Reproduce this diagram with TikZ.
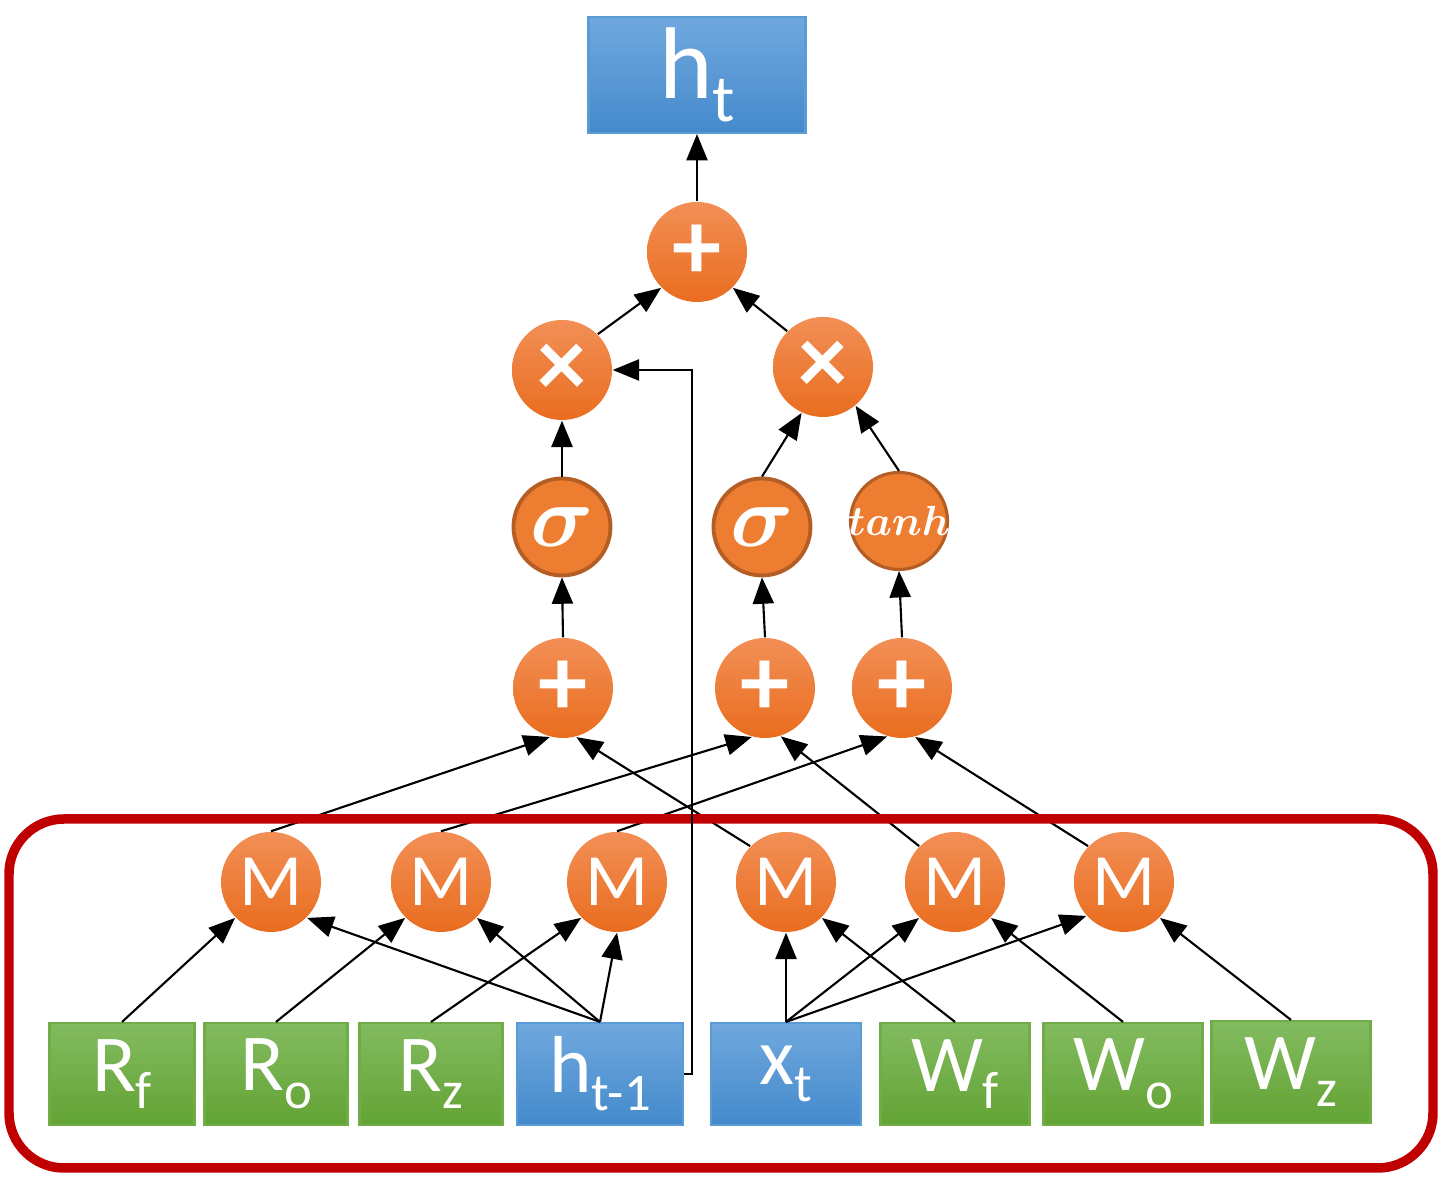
\documentclass[tikz,border=0pt]{standalone}
\usepackage{amsmath}
\usepackage{amssymb}
\usepackage{fontspec}
\usepackage{tikz}
\usetikzlibrary{arrows.meta}
\usetikzlibrary{decorations.markings}
\newfontfamily\calib{Carlito}
\newcommand{\lowsub}[2]{\raisebox{-0.22em}{\fontsize{#1}{#1}\selectfont #2}}
\definecolor{oplight}{RGB}{242,143,86}
\definecolor{opdark}{RGB}{233,109,31}
\definecolor{morange}{RGB}{237,125,49}
\definecolor{mbrown}{RGB}{180,94,38}
\definecolor{glight}{RGB}{131,187,96}
\definecolor{gdark}{RGB}{99,163,52}
\definecolor{mgreen}{RGB}{112,173,71}
\definecolor{blight}{RGB}{112,168,222}
\definecolor{bdark}{RGB}{68,138,204}
\definecolor{mblue}{RGB}{91,155,213}
\definecolor{mred}{RGB}{192,0,0}
\tikzset{arr/.style = {shorten >=2.5pt, line width=0.6pt,
                       decoration={markings,
                                   mark=at position 1 with {\arrow{Triangle[length=7.5pt,width=6pt]}}},
                       postaction={decorate}}}
\tikzset{opnode/.style = {circle, inner sep = 0, minimum size = 1cm, top color=oplight, bottom color=opdark,
                          text=white, font=\calib\fontsize{21}{21}\selectfont}}
\tikzset{actnode/.style = {circle, inner sep = 0, minimum size = 0.97cm, fill=morange, draw=mbrown,
                           line width=1.1pt, text=white}}
\tikzset{wbox/.style = {rectangle, inner sep = 0, minimum height = 1.02cm, top color=glight, bottom color=gdark,
                        draw=mgreen, line width=0.6pt, text=white, font=\calib\fontsize{23}{23}\selectfont}}
\tikzset{inbox/.style = {wbox, top color=blight, bottom color=bdark, draw=mblue}}
\begin{document}
\begin{tikzpicture}
    \useasboundingbox (0, 0) rectangle (14.42, 11.78);

    \node [inbox, minimum width=2.17cm, minimum height=1.16cm, font=\calib\fontsize{29}{29}\selectfont]
        (ht) at (6.97, 11.03) {h\lowsub{19}{t}};

    \node [opnode, font=\calib\bfseries\fontsize{28}{28}\selectfont] (plustop) at (6.97, 9.26) {+};
    \node [opnode, font=\calib\bfseries\fontsize{28}{28}\selectfont] (times1) at (5.62, 8.08) {×};
    \node [opnode, font=\calib\bfseries\fontsize{28}{28}\selectfont] (times2) at (8.23, 8.11) {×};

    \node [actnode, font=\fontsize{27}{27}\selectfont] (sig1) at (5.62, 6.51) {$\boldsymbol{\sigma}$};
    \node [actnode, font=\fontsize{27}{27}\selectfont] (sig2) at (7.62, 6.51) {$\boldsymbol{\sigma}$};
    \node [actnode, line width=0.9pt, font=\fontsize{13}{13}\selectfont] (tanh) at (8.99, 6.57)
        {\makebox[0pt]{$\boldsymbol{tanh}$}};

    \node [opnode, font=\calib\bfseries\fontsize{28}{28}\selectfont] (plus1) at (5.63, 4.90) {+};
    \node [opnode, font=\calib\bfseries\fontsize{28}{28}\selectfont] (plus2) at (7.65, 4.90) {+};
    \node [opnode, font=\calib\bfseries\fontsize{28}{28}\selectfont] (plus3) at (9.02, 4.90) {+};

    \node [opnode] (m1) at (2.71, 2.96) {M};
    \node [opnode] (m2) at (4.41, 2.96) {M};
    \node [opnode] (m3) at (6.17, 2.96) {M};
    \node [opnode] (m4) at (7.86, 2.96) {M};
    \node [opnode] (m5) at (9.55, 2.96) {M};
    \node [opnode] (m6) at (11.24, 2.96) {M};

    \node [wbox, minimum width=1.45cm] (rf) at (1.22, 1.04) {R\lowsub{15}{f}};
    \node [wbox, minimum width=1.43cm] (ro) at (2.76, 1.04) {R\lowsub{15}{o}};
    \node [wbox, minimum width=1.43cm] (rz) at (4.31, 1.04) {R\lowsub{15}{z}};
    \node [inbox, minimum width=1.66cm] (hprev) at (6.00, 1.04) {h\lowsub{15}{t-1}};
    \node [inbox, minimum width=1.50cm] (xt) at (7.86, 1.04) {x\lowsub{15}{t}};
    \node [wbox, minimum width=1.49cm] (wf) at (9.55, 1.04) {W\lowsub{15}{f}};
    \node [wbox, minimum width=1.59cm] (wo) at (11.23, 1.04) {W\lowsub{15}{o}};
    \node [wbox, minimum width=1.59cm] (wz) at (12.91, 1.06) {W\lowsub{15}{z}};

    \draw [arr] (rf.north) -- (m1.south west);
    \draw [arr] (ro.north) -- (m2.south west);
    \draw [arr] (rz.north) -- (m3.south west);
    \draw [arr] (hprev.north) -- (m1.south east);
    \draw [arr] (hprev.north) -- (m2.south east);
    \draw [arr] (hprev.north) -- (m3.south);
    \draw [arr] (xt.north) -- (m4.south);
    \draw [arr] (xt.north) -- (m5.south west);
    \draw [arr] (xt.north) -- (m6.-138);
    \draw [arr] (wf.north) -- (m4.south east);
    \draw [arr] (wo.north) -- (m5.south east);
    \draw [arr] (wz.north) -- (m6.south east);

    \draw [arr] (m1.north) -- (plus1.-105);
    \draw [arr] (m4.north west) -- (plus1.-75);
    \draw [arr] (m2.north) -- (plus2.-105);
    \draw [arr] (m5.north west) -- (plus2.-72);
    \draw [arr] (m3.north) -- (plus3.-107);
    \draw [arr] (m6.north west) -- (plus3.-75);

    \draw [mred, line width=2.7pt, rounded corners=0.55cm] (0.09, 0.10) rectangle (14.33, 3.59);

    \draw [arr] (plus1.north) -- (sig1.south);
    \draw [arr] (plus2.north) -- (sig2.south);
    \draw [arr] (plus3.north) -- (tanh.south);
    \draw [arr] (sig1.north) -- (times1.south);
    \draw [arr] (sig2.north) -- (times2.-115);
    \draw [arr] (tanh.north) -- (times2.-50);
    \draw [arr] (times1.north east) -- (plustop.south west);
    \draw [arr] (times2.north west) -- (plustop.south east);
    \draw [arr] (plustop.north) -- (ht.south);

    \draw [arr] (hprev.east) -- ++(0.08, 0) |- (times1.east);
\end{tikzpicture}
\end{document}
